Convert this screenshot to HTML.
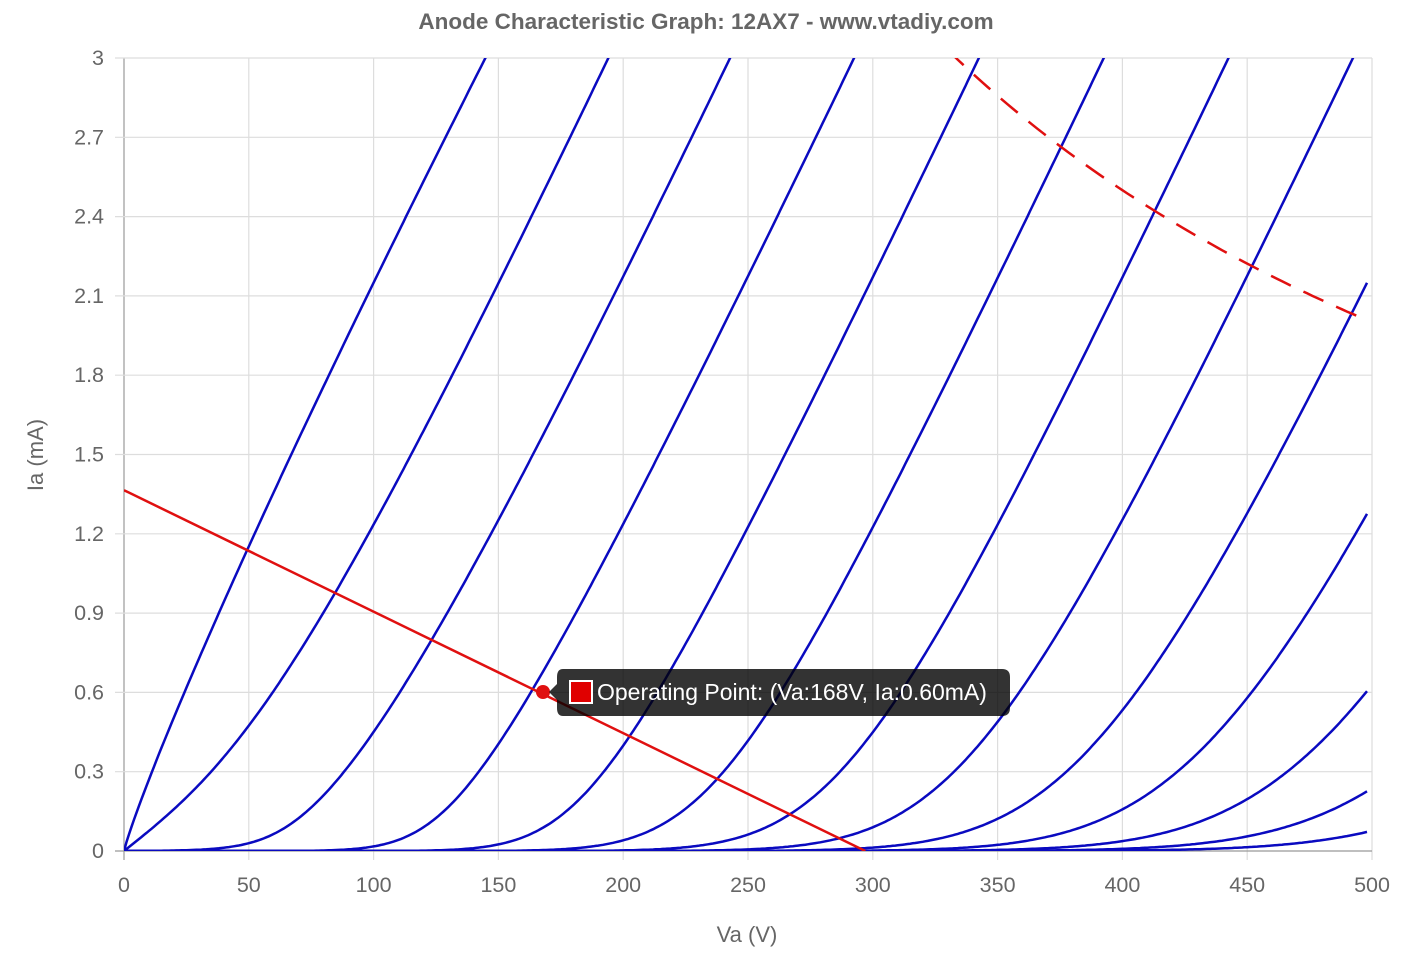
<!DOCTYPE html>
<html><head><meta charset="utf-8"><style>
html,body{margin:0;padding:0;background:#fff;}
svg{display:block;font-family:"Liberation Sans",Arial,sans-serif;}
</style></head><body>
<svg id="s" width="1401" height="953" viewBox="0 0 1401 953" xmlns="http://www.w3.org/2000/svg">
<defs><clipPath id="c"><rect x="124" y="58" width="1248" height="793"/></clipPath></defs>
<g id="grid"></g>
<text x="706" y="29" text-anchor="middle" font-size="22.5" font-weight="bold" fill="#666">Anode Characteristic Graph: 12AX7 - www.vtadiy.com</text>
<text x="747" y="942" text-anchor="middle" font-size="22" fill="#666">Va (V)</text>
<text transform="translate(43,455) rotate(-90)" text-anchor="middle" font-size="22" fill="#666">Ia (mA)</text>
<g id="curves" clip-path="url(#c)"></g>
</svg>
<script>
var ns="http://www.w3.org/2000/svg";
function X(v){return 124+v*2.496;}
function Y(i){return 851-i*264.33;}
function el(t,a,p){var e=document.createElementNS(ns,t);for(var k in a)e.setAttribute(k,a[k]);(p||document.getElementById('s')).appendChild(e);return e;}
var g=document.getElementById('grid');
for(var i=0;i<=10;i++){var x=X(i*50);
 el('line',{x1:x,y1:58,x2:x,y2:860,stroke:i==0?'#999':'#ddd','stroke-width':1.2},g);
 var t=el('text',{x:x,y:892,'text-anchor':'middle','font-size':21.5,fill:'#666'},g);t.textContent=i*50;}
var yl=['0','0.3','0.6','0.9','1.2','1.5','1.8','2.1','2.4','2.7','3'];
for(var j=0;j<=10;j++){var y=Y(j*0.3);
 el('line',{x1:115,y1:y,x2:1372,y2:y,stroke:j==0?'#999':'#ddd','stroke-width':1.2},g);
 var t=el('text',{x:104,y:y+7,'text-anchor':'end','font-size':21.5,fill:'#666'},g);t.textContent=yl[j];}
var c=document.getElementById('curves');
var kp=1250,mu=100,kvb=6300;
function ia(va,vg){if(va<=0)return 0;var a=kp*(1/mu+vg/Math.sqrt(kvb+va*va));var sp=a>30?a:Math.log(1+Math.exp(a));var e=va/kp*sp;
 var ex=vg==0?0.9:1.0;var K=vg==0?2.15:2.03;return K*Math.pow(e,ex);}
for(var n=0;n<=12;n++){var vg=-0.5*n,d='';
 for(var va=0;va<=498;va+=1){var v=ia(va,vg);var yy=Y(v);d+=(d?'L':'M')+X(va).toFixed(1)+','+yy.toFixed(1);if(yy<40)break;}
 el('path',{d:d,fill:'none',stroke:'#0a0ac0','stroke-width':2.5},c);}
el('line',{x1:X(0),y1:Y(1.365),x2:X(297),y2:Y(0),stroke:'#e01010','stroke-width':2.5},c);
var d='';for(var va=330;va<=498;va+=2){d+=(d?'L':'M')+X(va).toFixed(1)+','+Y(1000/va).toFixed(1);}
el('path',{d:d,fill:'none',stroke:'#e01010','stroke-width':2.5,'stroke-dasharray':'22,14'},c);
el('circle',{cx:543,cy:692,r:7,fill:'#e01010'});
el('path',{d:'M563,669 H1002 Q1010,669 1010,677 V708 Q1010,716 1002,716 H563 Q557,716 557,708 V700 L549,692 L557,684 V677 Q557,669 563,669 Z',fill:'rgba(0,0,0,0.8)'});
el('rect',{x:570,y:681,width:22,height:22,fill:'#e00000',stroke:'#fff','stroke-width':2});
var t=el('text',{x:597,y:700,'font-size':23,fill:'#fff'});t.textContent='Operating Point: (Va:168V, Ia:0.60mA)';
</script>
</body></html>
